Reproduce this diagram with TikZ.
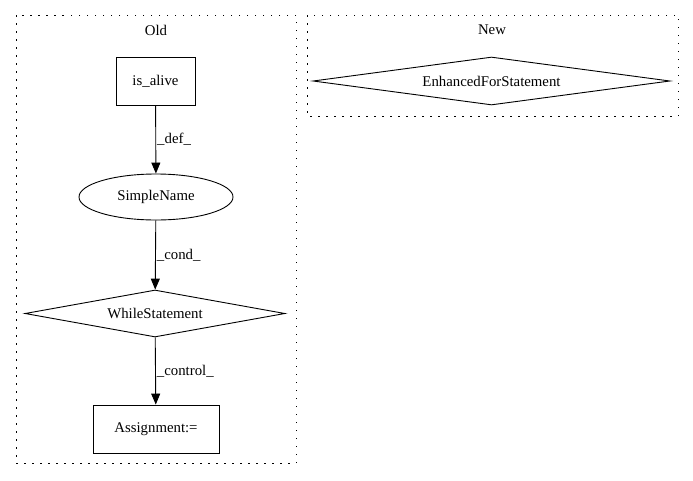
\documentclass[tikz,border=0pt]{standalone}
\usepackage{fontspec}
\setmainfont{Liberation Serif}
\usetikzlibrary{shapes.geometric,arrows.meta}
\tikzset{
  every node/.style={font=\fontsize{14.8}{17}\selectfont},
  cluster/.style={draw, line width=1pt, dash pattern=on 1.5pt off 6.5pt},
  boxnode/.style={draw, line width=0.9pt, rectangle, inner sep=0pt},
  ellnode/.style={draw, line width=0.9pt, ellipse, inner sep=0pt, minimum width=154pt, minimum height=46pt},
  dianode/.style={draw, line width=0.9pt, diamond, inner sep=0pt},
  edge/.style={draw, line width=0.9pt, -{Triangle[length=11pt,width=9pt]}},
  elabel/.style={anchor=west, inner sep=0pt},
}
\begin{document}
\begin{tikzpicture}[x=1pt,y=-1pt]
\useasboundingbox (0,0) rectangle (693,480);
% clusters
\draw[cluster] (16,15) rectangle (296,463);
\draw[cluster] (307,15) rectangle (678,116);
\node (oldlbl) at (156,30) {Old};
\node (newlbl) at (492,30) {New};
% nodes
\node[boxnode, minimum width=79pt, minimum height=48pt] (isalive) at (155.5,81) {is\_alive};
\node[ellnode] (simple) at (156,197) {SimpleName};
\node[dianode, minimum width=260pt, minimum height=47pt, aspect=5.5] (while) at (155,313.5) {WhileStatement};
\node[boxnode, minimum width=126pt, minimum height=48pt] (assign) at (156,429) {Assignment:=};
\node[dianode, minimum width=357pt, minimum height=48pt, aspect=7.4] (efor) at (491.5,81) {EnhancedForStatement};
% edges
\draw[edge] (isalive) -- (simple) node[pos=0.5, elabel, xshift=1pt] {\_def\_};
\draw[edge] (simple) -- (while) node[pos=0.5, elabel, xshift=1pt] {\_cond\_};
\draw[edge] (while) -- (assign) node[pos=0.5, elabel, xshift=1pt] {\_control\_};
\end{tikzpicture}
\end{document}
